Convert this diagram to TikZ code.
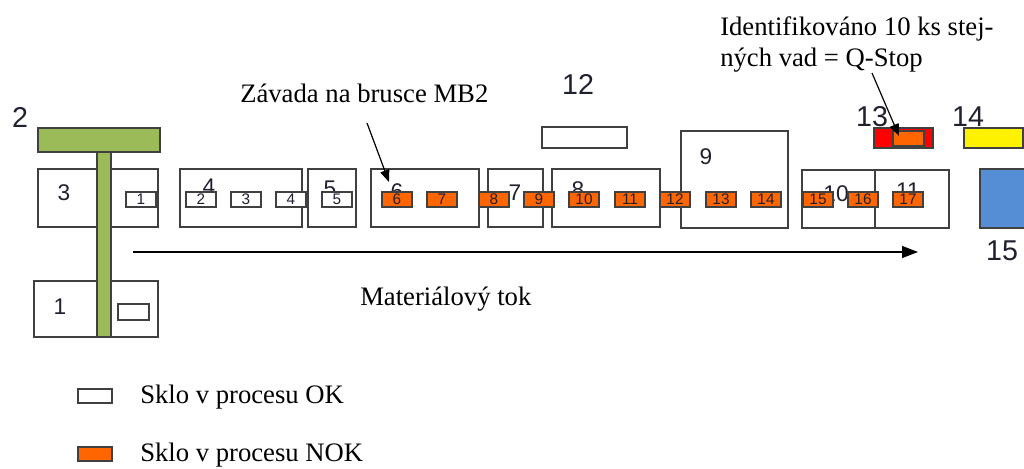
\documentclass[tikz,border=0pt]{standalone}
\usepackage{fontspec}
\setmainfont{Liberation Serif}
\newfontfamily\arialf{Liberation Sans}
\usetikzlibrary{arrows.meta}
\definecolor{boxc}{HTML}{404040}
\definecolor{nokc}{HTML}{FF6600}
\definecolor{grn}{HTML}{9BBB59}
\definecolor{blu}{HTML}{558ED5}
\definecolor{lblc}{HTML}{1F2030}
\tikzset{
  bx/.style args={#1/#2/#3/#4}{rectangle, inner sep=0pt, outer sep=0pt,
    minimum width={(#3-#1)*0.75pt}, minimum height={(#4-#2)*0.75pt}},
  bigbox/.style={draw=boxc, line width=1.3pt, fill=none},
  okr/.style={draw=boxc, line width=1pt, fill=white, font=\arialf\fontsize{11.5}{11.5}\selectfont, text=lblc,
    minimum width=22.5pt, minimum height=11.25pt, inner sep=0pt},
  nokr/.style={okr, fill=nokc},
  inlbl/.style={font=\arialf\fontsize{17}{17}\selectfont, text=lblc, inner sep=0pt},
  outlbl/.style={font=\arialf\fontsize{21.5}{21.5}\selectfont, text=lblc, inner sep=0pt},
  txt/.style={font=\fontsize{20}{20}\selectfont, anchor=base west, inner sep=0pt},
  ptr/.style={-{Triangle[length=9pt,width=7pt]}, line width=0.9pt},
}
\begin{document}
\begin{tikzpicture}[x=0.75pt,y=-0.75pt]
\useasboundingbox (0,0) rectangle (1024,468);
\clip (0,0) rectangle (1024,468);
% big boxes
\node[bigbox, bx=38/169/158/227] (b3) at (98,198) {};
\node[bigbox, bx=34/281/158/337] (b1) at (96,309) {};
\node[bigbox, bx=180/169/302/227] (b4) at (241,198) {};
\node[bigbox, bx=308/169/356/227] (b5) at (332,198) {};
\node[bigbox, bx=371/169/479/227] (b6) at (425,198) {};
\node[bigbox, bx=488/169/543/227] (b7) at (515.5,198) {};
\node[bigbox, bx=552/169/660/227] (b8) at (606,198) {};
\node[bigbox, bx=681/131/788/228] (b9) at (734.5,179.5) {};
\node[bigbox, bx=802/170/875/228] (b10) at (838.5,199) {};
\node[bigbox, bx=875/170/949/228] (b11) at (912,199) {};
\node[bigbox, bx=542/127/627/148] (b12) at (584.5,137.5) {};
\node[draw=boxc, line width=1.3pt, fill=red, bx=874/128/933/148] (b13) at (903.5,138) {};
\node[draw=boxc, line width=1pt, fill=nokc, bx=893/131/924/146] (g13) at (908.5,138.5) {};
\node[draw=boxc, line width=1.3pt, fill=yellow, bx=964/128/1023/148] (b14) at (993.5,138) {};
\node[draw=boxc, line width=1.3pt, fill=blu, bx=980/169/1060/228] (b15) at (1020,198.5) {};
% labels inside boxes
\node[inlbl] (l3) at (64,193) {3};
\node[inlbl] (l1) at (60,307) {1};
\node[inlbl] (l4) at (209,187) {4};
\node[inlbl] (l5) at (330,189) {5};
\node[inlbl] (l6) at (397,192) {6};
\node[inlbl] (l7) at (515,193) {7};
\node[inlbl] (l8) at (578,190) {8};
\node[inlbl] (l9) at (706,157) {9};
\node[inlbl] (l10) at (836,194) {10};
\node[inlbl] (l11) at (908,191) {11};
% green feeder
\node[draw=boxc, line width=1.3pt, fill=grn, bx=97/152/111/337] (gv) at (104,244.5) {};
\node[draw=boxc, line width=1.3pt, fill=grn, bx=38/128/160/152] (gh) at (99,140) {};
% small glass rects
\node[okr] (r1) at (141,199.5) {1};
\node[okr] (r2) at (201,199.5) {2};
\node[okr] (r3) at (246,199.5) {3};
\node[okr] (r4) at (291,199.5) {4};
\node[okr] (r5) at (337,199.5) {5};
\node[nokr] (r6) at (397,199.5) {6};
\node[nokr] (r7) at (442,199.5) {7};
\node[nokr] (r8) at (494,199.5) {8};
\node[nokr] (r9) at (539,199.5) {9};
\node[nokr] (r10) at (584,199.5) {10};
\node[nokr] (r11) at (630,199.5) {11};
\node[nokr] (r12) at (675,199.5) {12};
\node[nokr] (r13) at (721,199.5) {13};
\node[nokr] (r14) at (766,199.5) {14};
\node[nokr] (r15) at (818,199.5) {15};
\node[nokr] (r16) at (863,199.5) {16};
\node[nokr] (r17) at (908,199.5) {17};
\node[okr, bx=118/304/149/320] (r0) at (133.5,312) {};
% outside labels
\node[outlbl] (o2) at (20,117) {2};
\node[outlbl] (o12) at (578,84) {12};
\node[outlbl] (o13) at (872,117) {13};
\node[outlbl] (o14) at (968,117) {14};
\node[outlbl] (o15) at (1002,251) {15};
% material flow
\coordinate (fs) at (133,252);
\coordinate (fe) at (918,252);
\draw[-{Triangle[length=12pt,width=9pt]}, line width=0.9pt] (fs) -- (fe);
\node[txt] (tflow) at (360,305) {Materiálový tok};
% annotations
\node[txt] (tzav) at (240,102) {Závada na brusce MB2};
\coordinate (a1s) at (367,123);
\coordinate (a1e) at (389,182);
\draw[ptr] (a1s) -- (a1e);
\node[txt] (tid1) at (720,35) {Identifikováno 10 ks stej-};
\node[txt] (tid2) at (720,66) {ných vad = Q-Stop};
\coordinate (a2s) at (872,73);
\coordinate (a2e) at (899,136);
\draw[ptr] (a2s) -- (a2e);
% legend
\node[draw=boxc, line width=1pt, fill=white, bx=78/389/112/403] (lg1) at (95,396) {};
\node[txt] (tlg1) at (140,403) {Sklo v procesu OK};
\node[draw=boxc, line width=1pt, fill=nokc, bx=78/447/112/461] (lg2) at (95,454) {};
\node[txt] (tlg2) at (140,461) {Sklo v procesu NOK};
\end{tikzpicture}
\end{document}
